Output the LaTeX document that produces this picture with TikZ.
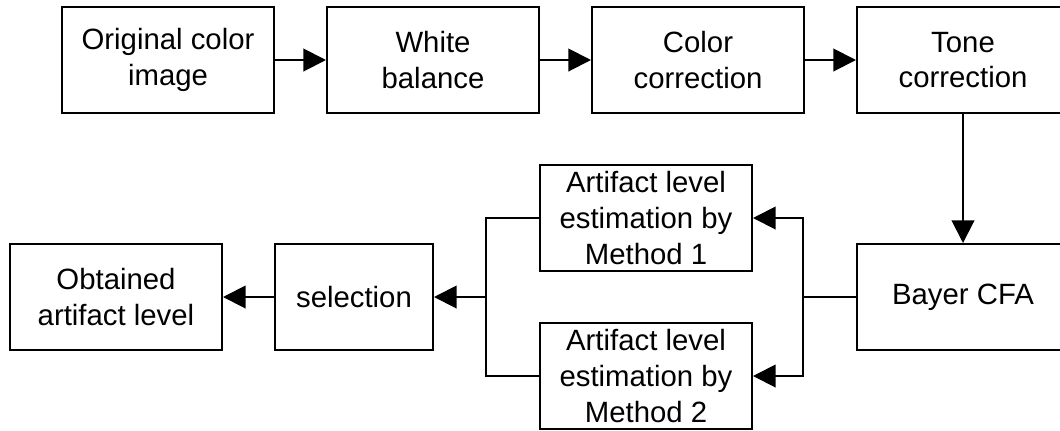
\documentclass[tikz,border=0pt]{standalone}
\usepackage{fontspec}
\setmainfont{Liberation Sans}
\usepackage{tikz}
\usetikzlibrary{arrows.meta, positioning, calc}

\tikzset{
	block/.style={draw, line width=1.5pt, minimum width=159pt, minimum height=79.5pt, align=center, inner sep=0pt, font=\fontsize{22}{26.8}\selectfont},
	flow/.style={line width=1.5pt, -{Triangle[length=17pt, width=17pt]}},
	link/.style={line width=1.5pt}
}

\begin{document}
\begin{tikzpicture}[x=0.75pt, y=-0.75pt]
	\clip (0,0) rectangle (1060,430);
	
	% top row
	\node[block] (orig) at (168, 60) {Original color\\image};
	\node[block] (wb) at (433, 60) {White\\balance};
	\node[block] (cc) at (698, 60) {Color\\correction};
	\node[block] (tone) at (963, 60) {Tone\\correction};
	
	% bottom row
	\node[block] (bayer) at (963, 297) {Bayer CFA};
	\node[block] (est1) at (646, 218) {Artifact level\\estimation by\\Method 1};
	\node[block] (est2) at (646, 376) {Artifact level\\estimation by\\Method 2};
	\node[block, minimum width=118.5pt] (sel) at (354, 297) {selection};
	\node[block] (level) at (116, 297) {Obtained\\artifact level};
	
	\coordinate (rbus) at (803, 297);
	\coordinate (lbus) at (486, 297);
	
	\draw[flow] (orig) -- (wb);
	\draw[flow] (wb) -- (cc);
	\draw[flow] (cc) -- (tone);
	\draw[flow] (tone) -- (bayer);
	
	\draw[link] (bayer.west) -- (rbus);
	\draw[flow] (rbus) |- (est1.east);
	\draw[flow] (rbus) |- (est2.east);
	
	\draw[link] (est1.west) -| (lbus);
	\draw[link] (est2.west) -| (lbus);
	\draw[flow] (lbus) -- (sel.east);
	\draw[flow] (sel) -- (level);
\end{tikzpicture}
\end{document}
